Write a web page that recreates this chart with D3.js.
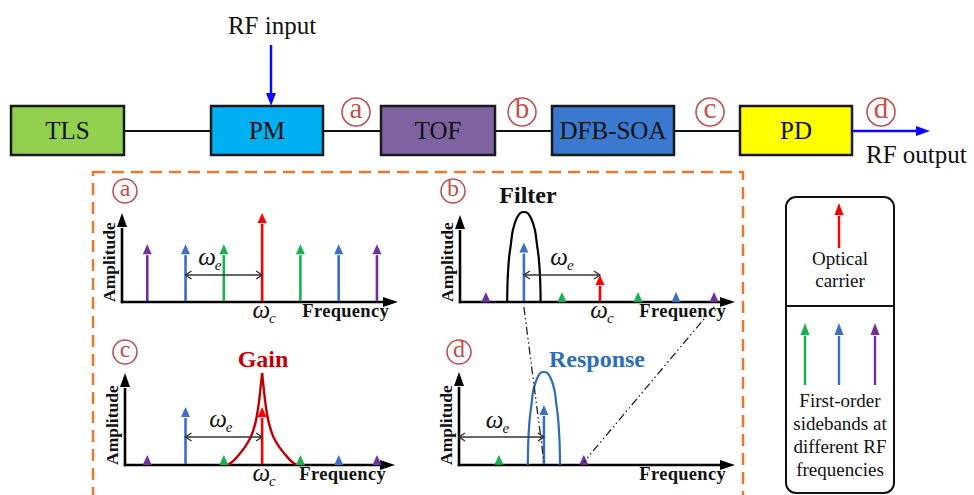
<!DOCTYPE html>
<html><head><meta charset="utf-8">
<script src="https://cdn.jsdelivr.net/npm/d3@7"></script>
<style>
body{margin:0;background:#fff}
svg{display:block}
svg text{font-family:"Liberation Serif","Tinos","DejaVu Serif",serif;}
</style>
</head><body>
<svg id="c" width="974" height="495"></svg>
<script>
// ---------------- data ----------------
const blocks = ["TLS", "PM", "TOF", "DFB-SOA", "PD"];
const blockFill = ["#92d050", "#00b0f0", "#7f63a1", "#3b78cf", "#ffff00"];
const probeLabels = ["a", "b", "c", "d"];
const panelTitles = ["", "Filter", "Gain", "Response"];

// optical spectra (panels a, b, c): sideband index relative to carrier
const sidebandIndex = [-3, -2, -1, 0, 1, 2, 3];
const sidebandColor = ["#7030a0", "#3a6fc4", "#19b050", "#ff0000", "#19b050", "#3a6fc4", "#7030a0"];
const ampA = [0.65, 0.65, 0.65, 1.0, 0.65, 0.65, 0.65];
const ampB = [0.11, 0.66, 0.11, 0.30, 0.11, 0.11, 0.11];
const ampC = [0.11, 0.63, 0.11, 0.63, 0.11, 0.11, 0.11];

// RF spectrum (panel d)
const freqD = [0.47, 1, 1.47];
const colorD = ["#19b050", "#3a6fc4", "#7030a0"];
const ampD = [0.11, 0.645, 0.11];

// filter (panel b), centred on index -2
const filterCenter = -2;
const filterDx = [-0.44, -0.427, -0.39, -0.34, -0.29, -0.2, -0.09, 0, 0.09, 0.2, 0.29, 0.34, 0.39, 0.427, 0.44];
const filterAmp = [0, 0.25, 0.49, 0.65, 0.8, 0.92, 0.99, 1, 0.99, 0.92, 0.8, 0.65, 0.49, 0.25, 0];

// gain (panel c), centred on carrier
const gainDx = [-0.9, -0.75, -0.62, -0.45, -0.29, -0.18, -0.1, -0.04, 0];
const gainAmp = [0, 0.045, 0.105, 0.195, 0.31, 0.45, 0.63, 0.84, 1];

// response (panel d), centred on RF frequency 1
const respCenter = 1;
const respDx = [-0.19, -0.184, -0.168, -0.147, -0.125, -0.086, -0.04, 0, 0.04, 0.086, 0.125, 0.147, 0.168, 0.184, 0.19];
const respAmp = [0, 0.25, 0.49, 0.65, 0.8, 0.92, 0.99, 1, 0.99, 0.92, 0.8, 0.65, 0.49, 0.25, 0];

// ---------------- drawing ----------------
const svg = d3.select("#c");
const probeColor = "#c0504d";

function arrowV(g, x, yBase, yTip, color, sw, hw, hl) {
  const yl = yTip + hl;
  if (yBase > yl) g.append("line").attr("x1", x).attr("x2", x).attr("y1", yBase).attr("y2", yl + 1)
    .attr("stroke", color).attr("stroke-width", sw);
  g.append("path").attr("d", `M${x},${yTip}L${x - hw / 2},${yl}L${x + hw / 2},${yl}Z`).attr("fill", color);
}
function arrowDown(g, x, yStart, yTip, color, sw, hw, hl) {
  g.append("line").attr("x1", x).attr("x2", x).attr("y1", yStart).attr("y2", yTip - hl + 1)
    .attr("stroke", color).attr("stroke-width", sw);
  g.append("path").attr("d", `M${x},${yTip}L${x - hw / 2},${yTip - hl}L${x + hw / 2},${yTip - hl}Z`).attr("fill", color);
}
function arrowH(g, x0, x1, y, color, sw, hw, hl) {
  g.append("line").attr("x1", x0).attr("x2", x1 - hl + 1).attr("y1", y).attr("y2", y)
    .attr("stroke", color).attr("stroke-width", sw);
  g.append("path").attr("d", `M${x1},${y}L${x1 - hl},${y - hw / 2}L${x1 - hl},${y + hw / 2}Z`).attr("fill", color);
}
function probe(g, cx, cy, r, letter, fs) {
  g.append("circle").attr("cx", cx).attr("cy", cy).attr("r", r)
    .attr("fill", "none").attr("stroke", probeColor).attr("stroke-width", 1.6);
  g.append("text").attr("x", cx).attr("y", cy + fs * 0.22).attr("text-anchor", "middle")
    .attr("font-size", fs).attr("fill", probeColor).text(letter);
}
function omega(g, x, y, sub, fs) {
  const t = g.append("text").attr("x", x).attr("y", y).attr("text-anchor", "middle")
    .attr("font-style", "italic").attr("font-size", fs).attr("fill", "#111");
  t.append("tspan").text("ω");
  t.append("tspan").attr("font-size", fs * 0.6).attr("dy", fs * 0.2).attr("dx", -1).text(sub);
}

// ---- top block diagram ----
const topG = svg.append("g");
const blockX = [11, 211, 381, 552, 740];
const blockW = [113, 112, 114, 122, 112];
const bY = 106, bH = 49, lineY = 131;
for (let i = 0; i < blocks.length - 1; i++) {
  topG.append("line").attr("x1", blockX[i] + blockW[i]).attr("x2", blockX[i + 1])
    .attr("y1", lineY).attr("y2", lineY).attr("stroke", "#111").attr("stroke-width", 2.2);
}
blocks.forEach((b, i) => {
  topG.append("rect").attr("x", blockX[i]).attr("y", bY).attr("width", blockW[i]).attr("height", bH)
    .attr("fill", blockFill[i]).attr("stroke", "#1a1a1a").attr("stroke-width", 2.5);
  topG.append("text").attr("x", blockX[i] + blockW[i] / 2).attr("y", bY + bH / 2 + 8)
    .attr("text-anchor", "middle").attr("font-size", 25)
    .attr("fill", "#111").text(b);
});
const probeTopX = [356, 522, 710, 881];
probeLabels.forEach((p, i) => probe(topG, probeTopX[i], 112, 14, p, 29));

// RF input / output
topG.append("text").attr("x", 272).attr("y", 34).attr("text-anchor", "middle")
  .attr("font-size", 25).attr("fill", "#111").text("RF input");
arrowDown(topG, 271, 45, 106, "#0a0aff", 2.5, 10, 13);
arrowH(topG, 852, 930, lineY, "#0a0aff", 2.5, 10, 14);
topG.append("text").attr("x", 866).attr("y", 163).attr("font-size", 25)
  .attr("fill", "#111").text("RF output");

// ---- dashed frame ----
svg.append("rect").attr("x", 93).attr("y", 172).attr("width", 650).attr("height", 340)
  .attr("fill", "none").attr("stroke", "#e9782f").attr("stroke-width", 2.5).attr("stroke-dasharray", "12,7");

// ---- panels ----
const panelLayout = [
  { x0: 122, x1: 398, y0: 302, yTop: 213, ampTop: 213, dom: [-3.66, 3.55], lx: 125, ly: 191, wy: 275, wl: -14 },
  { x0: 460, x1: 735, y0: 302, yTop: 215, ampTop: 212, dom: [-3.68, 3.55], lx: 453, ly: 191, wy: 275, wl: 0 },
  { x0: 125, x1: 395, y0: 465, yTop: 373, ampTop: 373, dom: [-3.58, 3.47], lx: 125, ly: 352, wy: 437, wl: -3 },
  { x0: 459, x1: 735, y0: 465, yTop: 372, ampTop: 372, dom: [0, 3.25], lx: 459, ly: 352, wy: 437, wl: -4 }
];
const titlePos = [null, [528, 203, "#111"], [263, 367, "#c00000"], [597, 367, "#2e6db5"]];
const panelAmps = [ampA, ampB, ampC];
const scales = panelLayout.map(p => ({
  x: d3.scaleLinear().domain(p.dom).range([p.x0, p.x1]),
  y: d3.scaleLinear().domain([0, 1]).range([p.y0, p.ampTop])
}));

panelLayout.forEach((p, k) => {
  const g = svg.append("g");
  arrowV(g, p.x0, p.y0 + 1.2, p.yTop, "#000", 2.6, 10, 14);
  arrowH(g, p.x0 - 1.2, p.x1, p.y0, "#000", 2.6, 10, 15);
  g.append("text").attr("transform", `translate(${p.x0 - 7},${p.y0}) rotate(-90)`)
    .attr("font-weight", "bold").attr("font-size", 17.5).attr("fill", "#111")
    .text("Amplitude");
  g.append("text").attr("x", p.x1 - 9).attr("y", p.y0 + 15).attr("text-anchor", "end")
    .attr("font-weight", "bold").attr("font-size", 18.5)
    .attr("letter-spacing", 0.3).attr("fill", "#111").text("Frequency");
  probe(g, p.lx, p.ly, 12, probeLabels[k], 24);
  if (titlePos[k]) {
    g.append("text").attr("x", titlePos[k][0]).attr("y", titlePos[k][1]).attr("text-anchor", "middle")
      .attr("font-weight", "bold").attr("font-size", 24)
      .attr("fill", titlePos[k][2]).text(panelTitles[k]);
  }
});

// curves
const lineGen = (sx, sy, c) => d3.line().x(d => sx(c + d[0])).y(d => sy(d[1]));
{
  const { x, y } = scales[1];
  svg.append("path").attr("d", lineGen(x, y, filterCenter).curve(d3.curveCatmullRom)(d3.zip(filterDx, filterAmp)))
    .attr("fill", "none").attr("stroke", "#000").attr("stroke-width", 2.2);
}
{
  const { x, y } = scales[2];
  const left = d3.zip(gainDx, gainAmp);
  const right = d3.zip(gainDx.map(v => -v), gainAmp).reverse();
  [left, right].forEach(pts => svg.append("path")
    .attr("d", lineGen(x, y, 0).curve(d3.curveCatmullRom)(pts))
    .attr("fill", "none").attr("stroke", "#c00000").attr("stroke-width", 2.4));
}
{
  const { x, y } = scales[3];
  svg.append("path").attr("d", lineGen(x, y, respCenter).curve(d3.curveCatmullRom)(d3.zip(respDx, respAmp)))
    .attr("fill", "none").attr("stroke", "#2e6db5").attr("stroke-width", 2.2);
}

// spectral lines
[0, 1, 2].forEach(k => {
  const { x, y } = scales[k];
  sidebandIndex.forEach((s, i) => {
    arrowV(svg, x(s), y(0) - 1, y(panelAmps[k][i]), sidebandColor[i], 2.6, 9, 10);
  });
});
{
  const { x, y } = scales[3];
  freqD.forEach((f, i) => arrowV(svg, x(f), y(0) - 1, y(ampD[i]), colorD[i], 2.6, 9, 10));
}

// ω_e double arrows and ω_c labels
function dbl(g, xa, xb, yy) {
  g.append("line").attr("x1", xa).attr("x2", xb).attr("y1", yy).attr("y2", yy)
    .attr("stroke", "#333").attr("stroke-width", 1.6);
  g.append("path").attr("d", `M${xa + 6},${yy - 4}L${xa},${yy}L${xa + 6},${yy + 4}M${xb - 6},${yy - 4}L${xb},${yy}L${xb - 6},${yy + 4}`)
    .attr("fill", "none").attr("stroke", "#333").attr("stroke-width", 1.4);
}
[0, 1, 2].forEach(k => {
  const p = panelLayout[k], { x } = scales[k];
  const xa = x(-2), xb = x(0);
  dbl(svg, xa, xb, p.wy);
  omega(svg, (xa + xb) / 2 + p.wl, p.wy - 10, "e", 25);
  omega(svg, x(0) + 2, p.y0 + 16, "c", 25);
});
{
  const p = panelLayout[3], { x } = scales[3];
  dbl(svg, x(0), x(1), p.wy);
  omega(svg, (x(0) + x(1)) / 2 + p.wl, p.wy - 9, "e", 25);
}

// dash-dot connectors from panel b to panel d
const connFrom = [-2, 3];
const connTo = [1, 1.47];
connFrom.forEach((s, i) => {
  svg.append("line")
    .attr("x1", scales[1].x(s)).attr("y1", panelLayout[1].y0 + 5)
    .attr("x2", scales[3].x(connTo[i])).attr("y2", panelLayout[3].y0 - 3)
    .attr("stroke", "#222").attr("stroke-width", 1.3).attr("stroke-dasharray", "8,3,1.5,3,1.5,3");
});

// ---- legend ----
const lg = svg.append("g");
lg.append("rect").attr("x", 786).attr("y", 197).attr("width", 108).attr("height", 296).attr("rx", 10)
  .attr("fill", "#fff").attr("stroke", "#111").attr("stroke-width", 2);
lg.append("line").attr("x1", 786).attr("x2", 894).attr("y1", 306).attr("y2", 306)
  .attr("stroke", "#111").attr("stroke-width", 2);
arrowV(lg, 839, 248, 203, "#ff0000", 2.4, 9, 12);
const legendSide = ["#19b050", "#3a6fc4", "#7030a0"];
const legendX = [805, 839, 875];
legendSide.forEach((c, i) => arrowV(lg, legendX[i], 385, 323, c, 2.4, 9, 12));
const legendText1 = ["Optical", "carrier"];
const legendText2 = ["First-order", "sidebands at", "different RF", "frequencies"];
legendText1.forEach((t, i) => lg.append("text").attr("x", 840).attr("y", 265 + i * 22)
  .attr("text-anchor", "middle").attr("font-size", 19).attr("fill", "#111").text(t));
legendText2.forEach((t, i) => lg.append("text").attr("x", 840).attr("y", 407 + i * 23)
  .attr("text-anchor", "middle").attr("font-size", 19).attr("fill", "#111").text(t));
</script>
</body></html>
